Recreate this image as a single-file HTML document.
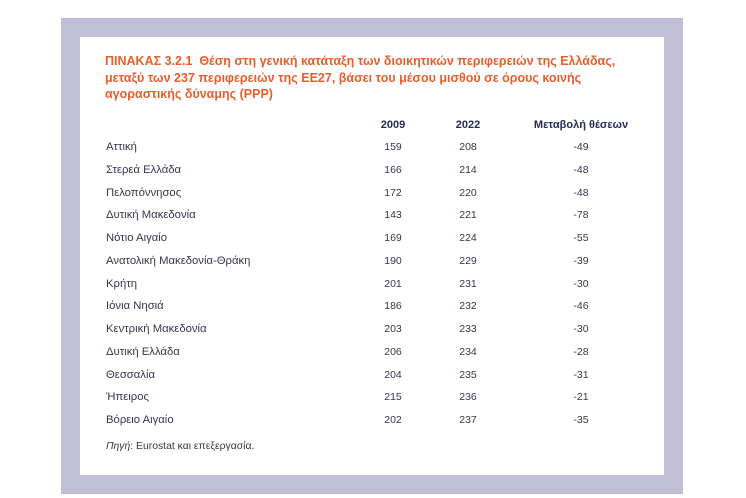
<!DOCTYPE html>
<html>
<head>
<meta charset="utf-8">
<style>
  html, body { margin:0; padding:0; background:#ffffff; }
  body { width:746px; height:498px; position:relative; overflow:hidden;
         font-family:"Liberation Sans", Arial, sans-serif; }
  .frame { position:absolute; left:61px; top:18px; width:622px; height:476px; background:#c1bfd7; }
  .inner { position:absolute; left:80px; top:37px; width:584px; height:438px; background:#ffffff; }
  .title { position:absolute; left:105px; top:53px; width:540px; font-weight:bold; font-size:12.5px;
           line-height:16.7px; color:#e85d2b; white-space:nowrap; }
  .t { position:absolute; height:20px; line-height:20px; white-space:nowrap; }
  .lbl { left:106px; font-size:11.3px; color:#35354f; }
  .num { width:80px; text-align:center; font-size:10.5px; color:#35354f; }
  .hd { font-weight:bold; font-size:11px; color:#2b2a55; width:140px; text-align:center; }
  .c1 { left:353px; } .c2 { left:428px; } .c3 { left:541px; }
  .h1 { left:323px; } .h2 { left:398px; } .h3 { left:511px; }
  .src { position:absolute; left:106px; top:437px; font-size:10.4px; line-height:20px; color:#35354f; }
</style>
</head>
<body>
<div class="frame"></div>
<div class="inner"></div>
<div class="title">ΠΙΝΑΚΑΣ 3.2.1&nbsp; Θέση στη γενική κατάταξη των διοικητικών περιφερειών της Ελλάδας,<br>μεταξύ των 237 περιφερειών της ΕΕ27, βάσει του μέσου μισθού σε όρους κοινής<br>αγοραστικής δύναμης (PPP)</div>

<div class="t hd h1" style="top:115px">2009</div>
<div class="t hd h2" style="top:115px">2022</div>
<div class="t hd h3" style="top:115px">Μεταβολή θέσεων</div>

<div class="t lbl" style="top:137px">Αττική</div>
<div class="t num c1" style="top:137px">159</div><div class="t num c2" style="top:137px">208</div><div class="t num c3" style="top:137px">-49</div>

<div class="t lbl" style="top:159.75px">Στερεά Ελλάδα</div>
<div class="t num c1" style="top:159.75px">166</div><div class="t num c2" style="top:159.75px">214</div><div class="t num c3" style="top:159.75px">-48</div>

<div class="t lbl" style="top:182.5px">Πελοπόννησος</div>
<div class="t num c1" style="top:182.5px">172</div><div class="t num c2" style="top:182.5px">220</div><div class="t num c3" style="top:182.5px">-48</div>

<div class="t lbl" style="top:205.25px">Δυτική Μακεδονία</div>
<div class="t num c1" style="top:205.25px">143</div><div class="t num c2" style="top:205.25px">221</div><div class="t num c3" style="top:205.25px">-78</div>

<div class="t lbl" style="top:228px">Νότιο Αιγαίο</div>
<div class="t num c1" style="top:228px">169</div><div class="t num c2" style="top:228px">224</div><div class="t num c3" style="top:228px">-55</div>

<div class="t lbl" style="top:250.75px">Ανατολική Μακεδονία-Θράκη</div>
<div class="t num c1" style="top:250.75px">190</div><div class="t num c2" style="top:250.75px">229</div><div class="t num c3" style="top:250.75px">-39</div>

<div class="t lbl" style="top:273.5px">Κρήτη</div>
<div class="t num c1" style="top:273.5px">201</div><div class="t num c2" style="top:273.5px">231</div><div class="t num c3" style="top:273.5px">-30</div>

<div class="t lbl" style="top:296.25px">Ιόνια Νησιά</div>
<div class="t num c1" style="top:296.25px">186</div><div class="t num c2" style="top:296.25px">232</div><div class="t num c3" style="top:296.25px">-46</div>

<div class="t lbl" style="top:319px">Κεντρική Μακεδονία</div>
<div class="t num c1" style="top:319px">203</div><div class="t num c2" style="top:319px">233</div><div class="t num c3" style="top:319px">-30</div>

<div class="t lbl" style="top:341.75px">Δυτική Ελλάδα</div>
<div class="t num c1" style="top:341.75px">206</div><div class="t num c2" style="top:341.75px">234</div><div class="t num c3" style="top:341.75px">-28</div>

<div class="t lbl" style="top:364.5px">Θεσσαλία</div>
<div class="t num c1" style="top:364.5px">204</div><div class="t num c2" style="top:364.5px">235</div><div class="t num c3" style="top:364.5px">-31</div>

<div class="t lbl" style="top:387.25px">Ήπειρος</div>
<div class="t num c1" style="top:387.25px">215</div><div class="t num c2" style="top:387.25px">236</div><div class="t num c3" style="top:387.25px">-21</div>

<div class="t lbl" style="top:410px">Βόρειο Αιγαίο</div>
<div class="t num c1" style="top:410px">202</div><div class="t num c2" style="top:410px">237</div><div class="t num c3" style="top:410px">-35</div>

<div class="src"><i>Πηγή</i>: Eurostat και επεξεργασία.</div>
</body>
</html>
